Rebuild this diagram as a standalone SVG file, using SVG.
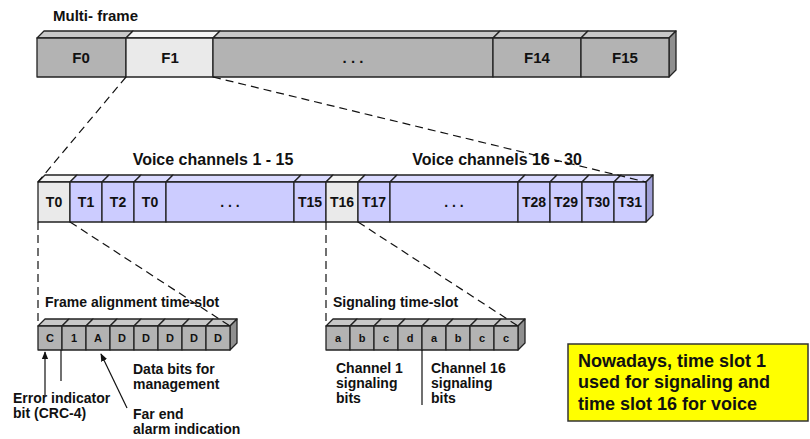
<svg xmlns="http://www.w3.org/2000/svg" width="810" height="439" viewBox="0 0 810 439">
<defs>
<style>
text{font-family:"Liberation Sans",Arial,sans-serif;font-weight:bold;fill:#111}
.f{stroke:#222;stroke-width:1.3;stroke-linejoin:round}
.g{fill:#B3B3B3}.gt{fill:#C8C8C8}.gs{fill:#8F8F8F}
.l{fill:#EAEAEA}.lt{fill:#F4F4F4}
.v{fill:#CCCCFF}.vt{fill:#DADAFF}.vs{fill:#A0A0D8}
.lbl{font-size:15px;text-anchor:middle}
.tl{font-size:14px;text-anchor:middle}
.bl{font-size:11px;text-anchor:middle}
.ann{font-size:14px}
.dash{stroke:#111;stroke-width:1.2;stroke-dasharray:8 5;fill:none}
.sol{stroke:#111;stroke-width:1.2;fill:none}
</style>
<marker id="ah" viewBox="0 0 10 10" refX="9" refY="5" markerWidth="8" markerHeight="8" orient="auto" markerUnits="userSpaceOnUse">
<path d="M0,1 L10,5 L0,9 Z" fill="#111"/>
</marker>
</defs>
<rect width="810" height="439" fill="#fff"/>

<text x="53" y="21" style="font-size:15px">Multi- frame</text>

<!-- Multi-frame bar -->
<g id="F0"><polygon class="f gt" points="37,38 44,31 133,31 126,38"/><rect class="f g" x="37" y="38" width="89" height="39"/><text class="lbl" x="81" y="63">F0</text></g>
<g id="F1"><polygon class="f lt" points="126,38 133,31 220,31 213,38"/><rect class="f l" x="126" y="38" width="87" height="39"/><text class="lbl" x="170" y="63">F1</text></g>
<g id="Fdots"><polygon class="f gt" points="213,38 220,31 500,31 493,38"/><rect class="f g" x="213" y="38" width="280" height="39"/><text class="lbl" x="353" y="63">. . .</text></g>
<g id="F14"><polygon class="f gt" points="493,38 500,31 588,31 581,38"/><rect class="f g" x="493" y="38" width="88" height="39"/><text class="lbl" x="537" y="63">F14</text></g>
<g id="F15"><polygon class="f gt" points="581,38 588,31 676,31 669,38"/><polygon class="f gs" points="669,38 676,31 676,70 669,77"/><rect class="f g" x="581" y="38" width="88" height="39"/><text class="lbl" x="625" y="63">F15</text></g>

<text x="213" y="165" style="font-size:16px;text-anchor:middle">Voice channels 1 - 15</text>
<text x="497" y="165" style="font-size:16px;text-anchor:middle">Voice channels 16 - 30</text>

<!-- Time-slot bar -->
<g id="T0"><polygon class="f lt" points="38,182 45,175 77,175 70,182"/><rect class="f l" x="38" y="182" width="32" height="40"/><text class="tl" x="54" y="207">T0</text></g>
<g id="T1"><polygon class="f vt" points="70,182 77,175 109,175 102,182"/><rect class="f v" x="70" y="182" width="32" height="40"/><text class="tl" x="86" y="207">T1</text></g>
<g id="T2"><polygon class="f vt" points="102,182 109,175 141,175 134,182"/><rect class="f v" x="102" y="182" width="32" height="40"/><text class="tl" x="118" y="207">T2</text></g>
<g id="T3"><polygon class="f vt" points="134,182 141,175 173,175 166,182"/><rect class="f v" x="134" y="182" width="32" height="40"/><text class="tl" x="150" y="207">T0</text></g>
<g id="Tdots1"><polygon class="f vt" points="166,182 173,175 301,175 294,182"/><rect class="f v" x="166" y="182" width="128" height="40"/><text class="tl" x="230" y="207">. . .</text></g>
<g id="T15"><polygon class="f vt" points="294,182 301,175 333,175 326,182"/><rect class="f v" x="294" y="182" width="32" height="40"/><text class="tl" x="310" y="207">T15</text></g>
<g id="T16"><polygon class="f lt" points="326,182 333,175 365,175 358,182"/><rect class="f l" x="326" y="182" width="32" height="40"/><text class="tl" x="342" y="207">T16</text></g>
<g id="T17"><polygon class="f vt" points="358,182 365,175 397,175 390,182"/><rect class="f v" x="358" y="182" width="32" height="40"/><text class="tl" x="374" y="207">T17</text></g>
<g id="Tdots2"><polygon class="f vt" points="390,182 397,175 525,175 518,182"/><rect class="f v" x="390" y="182" width="128" height="40"/><text class="tl" x="454" y="207">. . .</text></g>
<g id="T28"><polygon class="f vt" points="518,182 525,175 557,175 550,182"/><rect class="f v" x="518" y="182" width="32" height="40"/><text class="tl" x="534" y="207">T28</text></g>
<g id="T29"><polygon class="f vt" points="550,182 557,175 589,175 582,182"/><rect class="f v" x="550" y="182" width="32" height="40"/><text class="tl" x="566" y="207">T29</text></g>
<g id="T30"><polygon class="f vt" points="582,182 589,175 621,175 614,182"/><rect class="f v" x="582" y="182" width="32" height="40"/><text class="tl" x="598" y="207">T30</text></g>
<g id="T31"><polygon class="f vt" points="614,182 621,175 653,175 646,182"/><polygon class="f vs" points="646,182 653,175 653,215 646,222"/><rect class="f v" x="614" y="182" width="32" height="40"/><text class="tl" x="630" y="207">T31</text></g>

<text class="ann" x="45" y="307">Frame alignment time-slot</text>
<text class="ann" x="333" y="307">Signaling time-slot</text>

<!-- Frame alignment bits -->
<g id="bitC"><polygon class="f gt" points="38,326 45,319 69,319 62,326"/><rect class="f g" x="38" y="326" width="24" height="24"/><text class="bl" x="50" y="342">C</text></g>
<g id="bit1"><polygon class="f gt" points="62,326 69,319 93,319 86,326"/><rect class="f g" x="62" y="326" width="24" height="24"/><text class="bl" x="74" y="342">1</text></g>
<g id="bitA"><polygon class="f gt" points="86,326 93,319 117,319 110,326"/><rect class="f g" x="86" y="326" width="24" height="24"/><text class="bl" x="98" y="342">A</text></g>
<g id="bitD1"><polygon class="f gt" points="110,326 117,319 141,319 134,326"/><rect class="f g" x="110" y="326" width="24" height="24"/><text class="bl" x="122" y="342">D</text></g>
<g id="bitD2"><polygon class="f gt" points="134,326 141,319 165,319 158,326"/><rect class="f g" x="134" y="326" width="24" height="24"/><text class="bl" x="146" y="342">D</text></g>
<g id="bitD3"><polygon class="f gt" points="158,326 165,319 189,319 182,326"/><rect class="f g" x="158" y="326" width="24" height="24"/><text class="bl" x="170" y="342">D</text></g>
<g id="bitD4"><polygon class="f gt" points="182,326 189,319 213,319 206,326"/><rect class="f g" x="182" y="326" width="24" height="24"/><text class="bl" x="194" y="342">D</text></g>
<g id="bitD5"><polygon class="f gt" points="206,326 213,319 237,319 230,326"/><polygon class="f gs" points="230,326 237,319 237,343 230,350"/><rect class="f g" x="206" y="326" width="24" height="24"/><text class="bl" x="218" y="342">D</text></g>

<!-- Signaling bits -->
<g id="sa1"><polygon class="f gt" points="326,326 333,319 357,319 350,326"/><rect class="f g" x="326" y="326" width="24" height="24"/><text class="bl" x="338" y="342">a</text></g>
<g id="sb1"><polygon class="f gt" points="350,326 357,319 381,319 374,326"/><rect class="f g" x="350" y="326" width="24" height="24"/><text class="bl" x="362" y="342">b</text></g>
<g id="sc1"><polygon class="f gt" points="374,326 381,319 405,319 398,326"/><rect class="f g" x="374" y="326" width="24" height="24"/><text class="bl" x="386" y="342">c</text></g>
<g id="sd1"><polygon class="f gt" points="398,326 405,319 429,319 422,326"/><rect class="f g" x="398" y="326" width="24" height="24"/><text class="bl" x="410" y="342">d</text></g>
<g id="sa2"><polygon class="f gt" points="422,326 429,319 453,319 446,326"/><rect class="f g" x="422" y="326" width="24" height="24"/><text class="bl" x="434" y="342">a</text></g>
<g id="sb2"><polygon class="f gt" points="446,326 453,319 477,319 470,326"/><rect class="f g" x="446" y="326" width="24" height="24"/><text class="bl" x="458" y="342">b</text></g>
<g id="sc2"><polygon class="f gt" points="470,326 477,319 501,319 494,326"/><rect class="f g" x="470" y="326" width="24" height="24"/><text class="bl" x="482" y="342">c</text></g>
<g id="sc3"><polygon class="f gt" points="494,326 501,319 525,319 518,326"/><polygon class="f gs" points="518,326 525,319 525,343 518,350"/><rect class="f g" x="494" y="326" width="24" height="24"/><text class="bl" x="506" y="342">c</text></g>

<!-- annotations -->
<text class="ann" x="133" y="374">Data bits for</text>
<text class="ann" x="133" y="389">management</text>
<text class="ann" x="13" y="403">Error indicator</text>
<text class="ann" x="13" y="418">bit (CRC-4)</text>
<text class="ann" x="133" y="419">Far end</text>
<text class="ann" x="133" y="434">alarm indication</text>
<text class="ann" x="336" y="373">Channel 1</text>
<text class="ann" x="336" y="388">signaling</text>
<text class="ann" x="336" y="403">bits</text>
<text class="ann" x="431" y="373">Channel 16</text>
<text class="ann" x="431" y="388">signaling</text>
<text class="ann" x="431" y="403">bits</text>

<g id="note">
<rect x="568" y="344" width="240" height="77" fill="#FFFF00" stroke="#333" stroke-width="1.5"/>
<text x="578" y="367" style="font-size:18px">Nowadays, time slot 1</text>
<text x="578" y="388" style="font-size:18px">used for signaling and</text>
<text x="578" y="410" style="font-size:18px">time slot 16 for voice</text>
</g>

<g id="connectors">
<line class="dash" x1="126" y1="77" x2="38" y2="182"/>
<line class="dash" x1="213" y1="77" x2="646" y2="182"/>
<line class="dash" x1="38" y1="222" x2="38" y2="326"/>
<line class="dash" x1="70" y1="222" x2="230" y2="326"/>
<line class="dash" x1="326" y1="222" x2="326" y2="326"/>
<line class="dash" x1="358" y1="222" x2="518" y2="326"/>
<line class="sol" x1="45" y1="396" x2="45" y2="352" marker-end="url(#ah)"/>
<line class="sol" x1="61" y1="381" x2="61" y2="350"/>
<line class="sol" x1="127" y1="408" x2="101" y2="354" marker-end="url(#ah)"/>
<line class="sol" x1="422" y1="350" x2="422" y2="405"/>
</g>
</svg>
